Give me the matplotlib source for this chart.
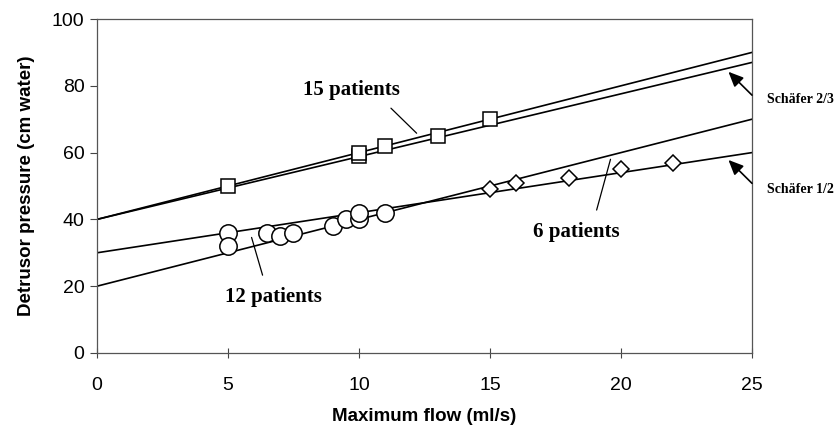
import matplotlib.pyplot as plt

# regression / nomogram lines, drawn from x=0 to x=25
line_x = [0, 25]
line_schafer_top = [40, 90]
line_15_patients = [40, 87]
line_schafer_half = [30, 60]
line_6_12_patients = [20, 70]

# measured points
square_x = [5, 10, 10, 11, 13, 15]
square_y = [50, 59, 60, 62, 65, 70]
circle_x = [5, 5, 6.5, 7, 7.5, 9, 9.5, 10, 10, 11]
circle_y = [36, 32, 36, 35, 36, 38, 40, 40, 42, 42]
diamond_x = [15, 16, 18, 20, 22]
diamond_y = [49, 51, 52.5, 55, 57]

x_ticks = [0, 5, 10, 15, 20, 25]
y_ticks = [0, 20, 40, 60, 80, 100]

serif = "Liberation Serif"
sans = "Liberation Sans"

fig = plt.figure(figsize=(8.39, 4.32), dpi=100)
ax = fig.add_axes([0.1156, 0.1829, 0.7807, 0.7731])

for ys in [line_schafer_top, line_15_patients, line_schafer_half, line_6_12_patients]:
    ax.plot(line_x, ys, color="black", lw=1.2, zorder=2)

mk = dict(ls="none", mfc="white", mec="black", mew=1.1, zorder=3)
ax.plot(square_x, square_y, marker="s", ms=9.5, **mk)
ax.plot(circle_x, circle_y, marker="o", ms=12.5, **mk)
ax.plot(diamond_x, diamond_y, marker="D", ms=8, **mk)

ax.set_xlim(0, 25)
ax.set_ylim(0, 100)
ax.set_xticks(x_ticks)
ax.set_yticks(y_ticks)
ax.tick_params(axis="x", direction="inout", length=7, width=0.8, pad=14,
               labelsize=14, colors="#444", labelcolor="black")
ax.tick_params(axis="y", direction="out", length=5, width=0.8, pad=4,
               labelsize=14, colors="#444", labelcolor="black")
for lab in ax.get_xticklabels() + ax.get_yticklabels():
    lab.set_fontfamily(sans)
for sp in ax.spines.values():
    sp.set_color("#555")
    sp.set_linewidth(0.9)

ax.set_xlabel("Maximum flow (ml/s)", fontfamily=sans, fontweight="bold",
              fontsize=13.5, labelpad=10)
ax.set_ylabel("Detrusor pressure (cm water)", fontfamily=sans,
              fontweight="bold", fontsize=13.5, labelpad=12)

# labels and leader lines
lbl = dict(fontsize=15, fontfamily=serif, fontweight="bold", ha="left", va="center")
leader = dict(arrowstyle="-", color="black", lw=0.9, shrinkA=0, shrinkB=0)
ax.text(7.86, 78.7, "15 patients", **lbl)
ax.annotate("", xy=(12.2, 65.8), xytext=(11.22, 73.3), arrowprops=leader,
            annotation_clip=False)
ax.text(4.89, 16.9, "12 patients", **lbl)
ax.annotate("", xy=(6.32, 23.3), xytext=(5.9, 34.6), arrowprops=leader,
            annotation_clip=False)
ax.text(16.63, 36.3, "6 patients", **lbl)
ax.annotate("", xy=(19.07, 42.8), xytext=(19.6, 58.0), arrowprops=leader,
            annotation_clip=False)

arrow = dict(arrowstyle="-|>,head_length=0.9,head_width=0.4", color="black",
             lw=1.2, shrinkA=0, shrinkB=0)
ax.annotate("", xy=(24.1, 84.2), xytext=(25, 77.2), arrowprops=arrow,
            annotation_clip=False)
ax.annotate("", xy=(24.1, 57.8), xytext=(25, 50.8), arrowprops=arrow,
            annotation_clip=False)
ax.text(25.56, 76.0, "Schäfer 2/3", fontsize=10, fontfamily=serif,
        fontweight="bold", ha="left", va="center", clip_on=False)
ax.text(25.56, 49.1, "Schäfer 1/2", fontsize=10, fontfamily=serif,
        fontweight="bold", ha="left", va="center", clip_on=False)

fig.savefig("out.png", dpi=100)
